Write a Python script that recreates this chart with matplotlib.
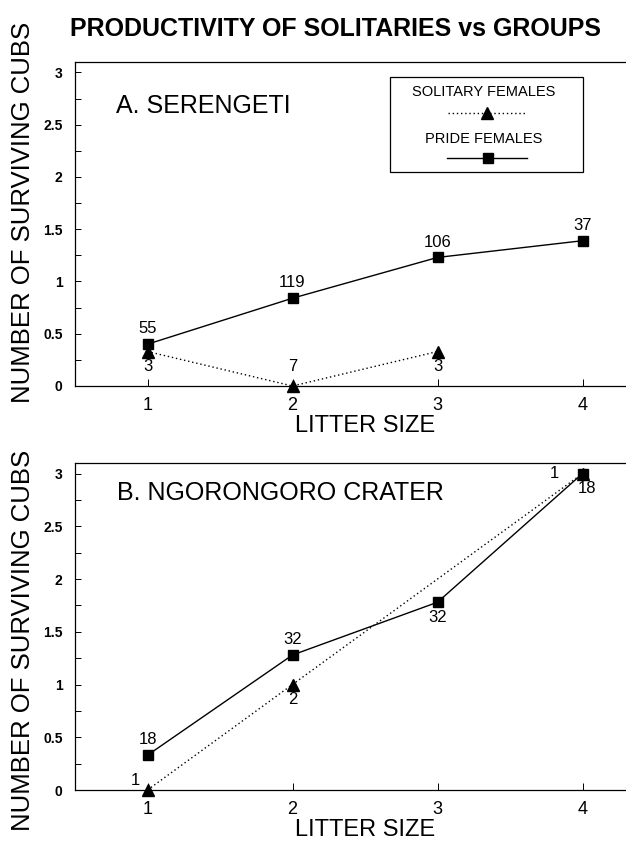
import numpy as np
import matplotlib
matplotlib.use("Agg")
import matplotlib.pyplot as plt
from matplotlib.lines import Line2D
from matplotlib.patches import Rectangle
from matplotlib.ticker import MultipleLocator

plt.rcParams['font.family'] = ['Liberation Sans', 'DejaVu Sans']

# ---- data ----
litter = [1, 2, 3, 4]

ser_pride = [0.40, 0.84, 1.23, 1.39]
ser_pride_n = ['55', '119', '106', '37']
ser_solo_x = [1, 2, 3]
ser_solo = [0.33, 0.0, 0.33]
ser_solo_n = ['3', '7', '3']

ngo_pride = [0.33, 1.28, 1.78, 3.0]
ngo_pride_n = ['18', '32', '32', '18']
ngo_solo_x = [1, 2, 4]
ngo_solo = [0.0, 1.0, 3.0]
ngo_solo_n = ['1', '2', '1']

# label offsets in points (dx, dy)
ser_pride_off = [(0, 11), (0, 11), (0, 11), (0, 11)]
ser_solo_off = [(0, -11), (0, 14), (0, -11)]
ngo_pride_off = [(0, 11), (0, 11), (0, -11), (3, -11)]
ngo_solo_off = [(-9, 7), (0, -11), (-20, 0)]

W, H = 626, 841
fig = plt.figure(figsize=(W / 100, H / 100), dpi=100)


def make_ax(top_px, bottom_px):
    left = 75
    ax = fig.add_axes([left / W, 1 - bottom_px / H, 580 / W, (bottom_px - top_px) / H])
    ax.set_xlim(0.5, 4.5)
    ax.set_ylim(0, 3.1)
    ax.set_xticks(litter)
    ax.set_yticks(np.arange(0, 3.01, 0.5))
    ax.set_yticklabels(['0', '0.5', '1', '1.5', '2', '2.5', '3'], fontweight='bold', fontsize=10)
    ax.yaxis.set_minor_locator(MultipleLocator(0.25))
    ax.tick_params(axis='y', which='both', direction='in', length=4, width=0.7, pad=9)
    ax.tick_params(axis='x', direction='in', length=5, width=0.7, pad=8, labelsize=13)
    for s in ax.spines.values():
        s.set_linewidth(0.9)
    ax.spines['right'].set_visible(False)
    ax.set_xlabel('LITTER SIZE', fontsize=17, labelpad=1)
    return ax


def draw(ax, px, py, pn, poff, sx, sy, sn, soff):
    ax.plot(sx, sy, color='black', lw=1.0, ls=(0, (1, 2)), marker='^',
            markersize=8, clip_on=False, zorder=3)
    ax.plot(px, py, color='black', lw=1.0, marker='s',
            markersize=6.5, clip_on=False, zorder=4)
    for x, y, t, o in zip(px, py, pn, poff):
        ax.annotate(t, (x, y), xytext=o, textcoords='offset points',
                    ha='center', va='center', fontsize=12)
    for x, y, t, o in zip(sx, sy, sn, soff):
        ax.annotate(t, (x, y), xytext=o, textcoords='offset points',
                    ha='center', va='center', fontsize=12)


ax1 = make_ax(62, 386)
draw(ax1, litter, ser_pride, ser_pride_n, ser_pride_off,
     ser_solo_x, ser_solo, ser_solo_n, ser_solo_off)
fig.text(116 / W, 1 - 106 / H, 'A. SERENGETI', fontsize=18, ha='left', va='center')

ax2 = make_ax(463, 790)
draw(ax2, litter, ngo_pride, ngo_pride_n, ngo_pride_off,
     ngo_solo_x, ngo_solo, ngo_solo_n, ngo_solo_off)
fig.text(117 / W, 1 - 493 / H, 'B. NGORONGORO CRATER', fontsize=18, ha='left', va='center')

# legend box drawn by hand (labels sit above their line samples)
fig.patches.append(Rectangle((390 / W, 1 - 172 / H), 193 / W, 95 / H,
                             transform=fig.transFigure, fill=False,
                             edgecolor='black', lw=0.9))
fig.text(484 / W, 1 - 92 / H, 'SOLITARY FEMALES', fontsize=10.5, ha='center', va='center')
fig.lines.append(Line2D([448 / W, 526 / W], [1 - 113 / H] * 2, transform=fig.transFigure,
                        color='black', lw=1.0, ls=(0, (1, 2))))
fig.lines.append(Line2D([487 / W], [1 - 113 / H], transform=fig.transFigure,
                        color='black', marker='^', markersize=9))
fig.text(484 / W, 1 - 139 / H, 'PRIDE FEMALES', fontsize=10.5, ha='center', va='center')
fig.lines.append(Line2D([447 / W, 527 / W], [1 - 158 / H] * 2, transform=fig.transFigure,
                        color='black', lw=1.0))
fig.lines.append(Line2D([488 / W], [1 - 158 / H], transform=fig.transFigure,
                        color='black', marker='s', markersize=7))

fig.text(23 / W, 1 - 212 / H, 'NUMBER OF SURVIVING CUBS', rotation=90,
         fontsize=18.5, ha='center', va='center')
fig.text(23 / W, 1 - 640 / H, 'NUMBER OF SURVIVING CUBS', rotation=90,
         fontsize=18.5, ha='center', va='center')

fig.text(335 / W, 1 - 29 / H, 'PRODUCTIVITY OF SOLITARIES vs GROUPS',
         fontsize=18, fontweight='bold', ha='center', va='center')

fig.savefig('out.png', dpi=100)
